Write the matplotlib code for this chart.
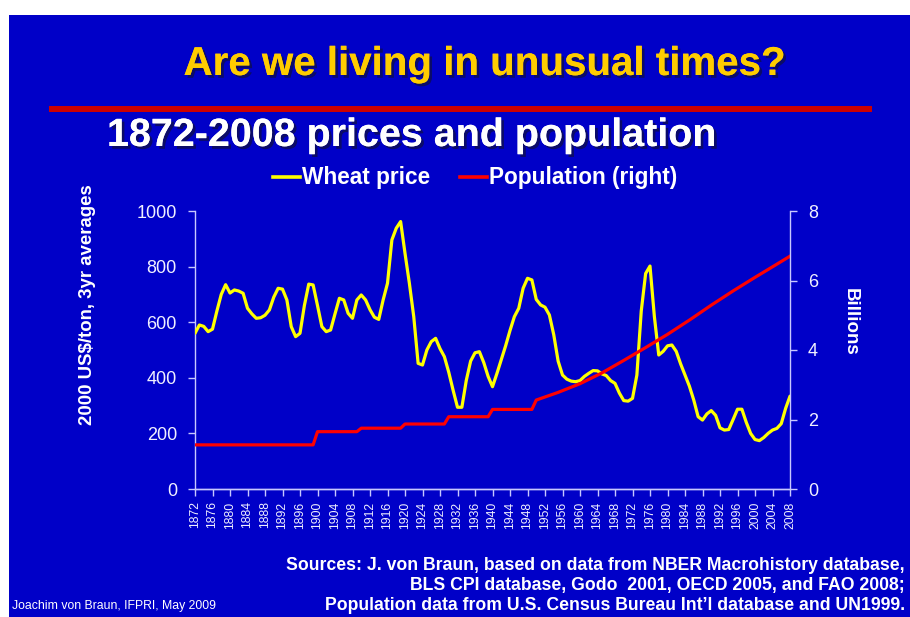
#!/usr/bin/env python3
'''
1872-2008 wheat prices and world population (dual axis slide chart)
'''
import matplotlib
matplotlib.use('Agg')
import matplotlib.pyplot as plt
import matplotlib.patheffects as pe
from matplotlib.patches import Rectangle
from matplotlib.lines import Line2D

# Wheat price, 2000 US$/ton, 3yr averages
wheat_years = list(range(1872, 2009))
wheat_price = [
    560, 590, 585, 566, 575, 640, 700, 735, 705, 716,   # 1872-1881
    712, 704, 650, 630, 614, 616, 625, 644, 690, 722,   # 1882-1891
    719, 680, 584, 548, 560, 660, 737, 734, 660, 584,   # 1892-1901
    566, 572, 630, 686, 680, 632, 614, 680, 698, 680,   # 1902-1911
    645, 618, 610, 680, 740, 896, 938, 962, 848, 740,   # 1912-1921
    620, 452, 446, 500, 530, 542, 505, 476, 420, 355,   # 1922-1931
    294, 294, 390, 460, 490, 494, 455, 405, 368, 415,   # 1932-1941
    465, 515, 570, 620, 650, 722, 758, 752, 682, 662,   # 1942-1951
    654, 626, 555, 460, 410, 395, 388, 386, 390, 405,   # 1952-1961
    416, 426, 425, 414, 408, 390, 380, 345, 318, 316,   # 1962-1971
    326, 410, 640, 775, 802, 620, 482, 495, 515, 518,   # 1972-1981
    495, 450, 410, 370, 320, 260, 248, 270, 282, 265,   # 1982-1991
    220, 212, 214, 250, 287, 287, 240, 200, 178, 174,   # 1992-2001
    185, 200, 212, 218, 235, 290, 334,                  # 2002-2008
]

# World population, billions
pop_years = [1872, 1899, 1900, 1909, 1910, 1919, 1920, 1929, 1930, 1939,
             1940, 1949, 1950, 1955, 1960, 1965, 1970, 1975, 1980, 1985,
             1990, 1995, 2000, 2005, 2008]
population = [1.27, 1.27, 1.65, 1.65, 1.75, 1.75, 1.87, 1.87, 2.08, 2.08,
              2.29, 2.29, 2.56, 2.78, 3.03, 3.34, 3.70, 4.07, 4.45, 4.86,
              5.29, 5.70, 6.09, 6.47, 6.70]

xtick_years = list(range(1872, 2009, 4))
left_ticks = [0, 200, 400, 600, 800, 1000]
right_ticks = [0, 2, 4, 6, 8]

BLUE = '#0000C8'
YELLOW = '#FFFF00'
RED = '#FF0000'
TICK = '#C8C8FF'
FONT = ['Liberation Sans', 'DejaVu Sans']

plt.rcParams['font.family'] = FONT

fig = plt.figure(figsize=(9.10, 6.17), dpi=100)
fig.patch.set_facecolor('white')

# slide background
fig.patches.append(Rectangle((9 / 910, 0), 1, 1 - 15 / 617,
                             transform=fig.transFigure, facecolor=BLUE,
                             edgecolor='none', zorder=-2))
# red rule under the title
fig.patches.append(Rectangle((49 / 910, 1 - 112 / 617), 823 / 910, 6 / 617,
                             transform=fig.transFigure, facecolor='#CC0000',
                             edgecolor='none', zorder=-1))

shadow = [pe.withSimplePatchShadow(offset=(2, -2), shadow_rgbFace='#101040',
                                   alpha=0.7),
          pe.Normal()]
fig.text(484 / 910, 1 - 64 / 617, 'Are we living in unusual times?',
         ha='center', va='center', fontsize=29, fontweight='bold',
         color='#FFCC00', path_effects=shadow)
fig.text(107 / 910, 1 - 136 / 617, '1872-2008 prices and population',
         ha='left', va='center', fontsize=28.4, fontweight='bold',
         color='white', path_effects=shadow)

ax = fig.add_axes([195 / 910, 1 - 489 / 617, 595 / 910, 278 / 617])
ax.set_facecolor('none')
ax2 = ax.twinx()

ax.plot(wheat_years, wheat_price, color=YELLOW, lw=2.3,
        solid_joinstyle='round', solid_capstyle='round', zorder=3)
ax2.plot(pop_years, population, color=RED, lw=2.3,
         solid_joinstyle='round', zorder=2)

ax.set_xlim(1872, 2008)
ax.set_ylim(0, 1000)
ax2.set_ylim(0, 8)
ax.set_yticks(left_ticks)
ax2.set_yticks(right_ticks)
ax.set_xticks(xtick_years)
ax.set_xticklabels([str(y) for y in xtick_years], rotation=90)

for a in (ax, ax2):
    for side in a.spines:
        a.spines[side].set_color(TICK)
        a.spines[side].set_linewidth(1.0)
    a.spines['top'].set_visible(False)
    a.tick_params(colors=TICK, labelcolor='#F0F0FF', length=5, width=1)
ax.spines['right'].set_visible(False)
ax2.spines['left'].set_visible(False)
ax.tick_params(axis='y', labelsize=13, pad=8)
ax2.tick_params(axis='y', labelsize=13, pad=8)
ax.tick_params(axis='x', labelsize=8.8, pad=4)

fig.text(88 / 910, 1 - 305 / 617, '2000 US$/ton, 3yr averages',
         rotation=90, ha='center', va='center', fontsize=13.4,
         fontweight='bold', color='white')
fig.text(850 / 910, 1 - 322 / 617, 'Billions', rotation=270,
         ha='center', va='center', fontsize=13.5, fontweight='bold',
         color='white')

# legend
handles = [Line2D([], [], color=YELLOW, lw=2.6),
           Line2D([], [], color=RED, lw=2.6)]
leg = fig.legend(handles, ['Wheat price', 'Population (right)'],
                 loc='center', bbox_to_anchor=(475 / 910, 1 - 178 / 617),
                 ncol=2, frameon=False, handlelength=1.2, handletextpad=0.1,
                 columnspacing=1.3, borderpad=0,
                 prop={'size': 16.3, 'weight': 'bold'})
for t in leg.get_texts():
    t.set_color('white')

sources = ['Sources: J. von Braun, based on data from NBER Macrohistory database,',
           'BLS CPI database, Godo  2001, OECD 2005, and FAO 2008;',
           'Population data from U.S. Census Bureau Int\u2019l database and UN1999.']
for i, line in enumerate(sources):
    fig.text(905 / 910, 1 - (565 + 20.5 * i) / 617, line, ha='right',
             va='center', fontsize=12.7, fontweight='bold', color='white')
fig.text(12 / 910, 1 - 606 / 617, 'Joachim von Braun, IFPRI, May 2009',
         ha='left', va='center', fontsize=8.8, color='white')

fig.savefig('out.png', dpi=100)
